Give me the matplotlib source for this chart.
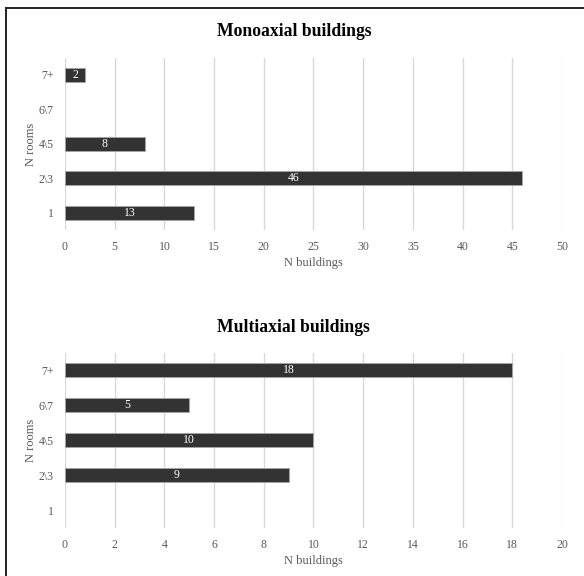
import matplotlib
matplotlib.use("Agg")
import matplotlib.pyplot as plt
from matplotlib.lines import Line2D

plt.rcParams['font.family'] = ['Liberation Serif', 'DejaVu Serif']

categories = ["1", "2\\3", "4\\5", "6\\7", "7+"]
mono_values = [13, 46, 8, 0, 2]
multi_values = [0, 9, 10, 5, 18]
mono_ticks = [0, 5, 10, 15, 20, 25, 30, 35, 40, 45, 50]
multi_ticks = [0, 2, 4, 6, 8, 10, 12, 14, 16, 18, 20]

fig = plt.figure(figsize=(5.84, 5.76), dpi=100)

bar_color = "#333333"
grid_color = "#d9d9d9"
text_color = "#595959"

def draw(ax, values, ticks, title, title_y):
    y = list(range(len(categories)))
    bars = ax.barh(y, values, height=0.4, color=bar_color, edgecolor="#a6a6a6", linewidth=0.6, zorder=3)
    for b, v in zip(bars, values):
        if v > 0:
            ax.text(b.get_width() / 2, b.get_y() + b.get_height() / 2, str(v),
                    ha="center", va="center", color="white", fontsize=8.5, zorder=4)
        else:
            b.set_linewidth(0)
    ax.set_xlim(ticks[0], ticks[-1])
    ax.set_ylim(-0.5, len(categories) - 0.5)
    ax.set_xticks(ticks)
    ax.set_yticks(y)
    ax.set_yticklabels(categories)
    ax.grid(axis="x", color=grid_color, linewidth=1.0, zorder=0)
    for s in ax.spines.values():
        s.set_visible(False)
    ax.tick_params(axis="both", length=0, labelsize=8.5, labelcolor=text_color)
    ax.tick_params(axis="x", pad=8)
    ax.tick_params(axis="y", pad=8)
    ax.set_xlabel("N buildings", fontsize=9, color=text_color, labelpad=3)
    ax.set_ylabel("N rooms", fontsize=9, color=text_color, labelpad=1)
    fig.text(0.503, title_y, title, fontsize=12.7, fontweight="bold", color="black",
             ha="center", va="center")

ax1 = fig.add_axes([0.1113, 0.6007, 0.851, 0.299])
draw(ax1, mono_values, mono_ticks, "Monoaxial buildings", 1 - 31/576)

ax2 = fig.add_axes([0.1113, 0.0842, 0.851, 0.3038])
draw(ax2, multi_values, multi_ticks, "Multiaxial buildings", 1 - 327/576)

# figure frame lines (top and left)
fig.add_artist(Line2D([6/584, 1.0], [1 - 7.5/576, 1 - 7.5/576], transform=fig.transFigure, color="#222222", linewidth=1.4))
fig.add_artist(Line2D([6/584, 6/584], [0.0, 1 - 7.5/576], transform=fig.transFigure, color="#222222", linewidth=1.4))

fig.savefig("out.png", dpi=100)
